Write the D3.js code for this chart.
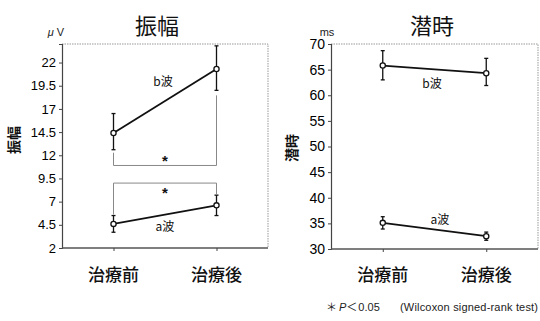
<!DOCTYPE html>
<html><head><meta charset="utf-8">
<script src="https://cdn.jsdelivr.net/npm/d3@7"></script>
<style>body{margin:0;background:#fff}svg{display:block}</style>
</head><body>
<script>
// ---- data ----
const categories = ["治療前", "治療後"];
// Amplitude (μV)
const ampTicks = [2, 4.5, 7, 9.5, 12, 14.5, 17, 19.5, 22];
const ampB = [14.4, 21.3];
const ampBLo = [12.6, 19.0];
const ampBHi = [16.5, 23.8];
const ampA = [4.6, 6.6];
const ampALo = [3.7, 5.5];
const ampAHi = [5.5, 7.7];
const ampBracketLevels = [10.9, 9.0];
// Latency (ms)
const latTicks = [30, 35, 40, 45, 50, 55, 60, 65, 70];
const latB = [65.8, 64.3];
const latBLo = [63.0, 61.9];
const latBHi = [68.7, 67.2];
const latA = [35.1, 32.5];
const latALo = [33.9, 31.7];
const latAHi = [36.3, 33.3];

const W = 540, H = 321;
const svg = d3.select("body").append("svg").attr("width", W).attr("height", H);
const JP = "'Noto Sans CJK JP','Noto Sans',sans-serif";
const NUM = "'Liberation Sans',Arial,sans-serif";

function panel(opt) {
  const g = svg.append("g");
  const x = d3.scalePoint().domain(categories).range([opt.x0, opt.x1]).padding(0.5);
  const y = d3.scaleLinear().domain(opt.domain).range([opt.y1, opt.y0]);
  // frame (top and right dotted grey)
  g.append("path")
    .attr("d", `M${opt.x0},${opt.y0}H${opt.x1}V${opt.y1}`)
    .attr("fill", "none").attr("stroke", "#999").attr("stroke-width", 1)
    .attr("stroke-dasharray", "1.5,1");
  // y axis
  const ya = g.append("g").attr("transform", `translate(${opt.x0},0)`)
    .call(d3.axisLeft(y).tickValues(opt.ticks).tickSize(3).tickPadding(3).tickFormat(d => d));
  ya.select(".domain").attr("stroke", "#444").attr("stroke-width", 1.2);
  ya.selectAll(".tick line").attr("stroke", "#444");
  ya.selectAll("text").attr("font-family", NUM).attr("font-size", opt.tickFont).attr("fill", "#000");
  // x axis
  const xa = g.append("g").attr("transform", `translate(0,${opt.y1})`)
    .call(d3.axisBottom(x).tickSize(3).tickFormat(""));
  xa.select(".domain").attr("stroke", "#555").attr("stroke-width", 1.4).attr("d", `M${opt.x0},0H${opt.x1}`);
  xa.selectAll(".tick line").attr("stroke", "#444");
  g.selectAll(".xlab").data(categories).enter().append("text")
    .attr("x", d => x(d)).attr("y", 281).attr("text-anchor", "middle")
    .attr("font-family", JP).attr("font-size", 17).attr("font-weight", 500).attr("fill", "#111")
    .text(d => d);
  // title
  g.append("text").attr("x", opt.titleX).attr("y", 34).attr("text-anchor", "middle")
    .attr("font-family", JP).attr("font-size", 22).attr("fill", "#111").text(opt.title);
  // unit
  g.append("text").attr("x", opt.unitX).attr("y", 36).attr("text-anchor", "middle")
    .attr("font-family", NUM).attr("font-size", 11).attr("fill", "#222").html(opt.unit);
  // y title
  g.append("text").attr("transform", `translate(${opt.ytX},${opt.ytY}) rotate(-90)`)
    .attr("text-anchor", "middle").attr("font-family", JP).attr("font-size", 14).attr("font-weight", 700)
    .attr("fill", "#111").text(opt.title);
  // series
  opt.series.forEach(s => {
    const pts = categories.map((c, i) => ({c, v: s.v[i], lo: s.lo[i], hi: s.hi[i]}));
    g.append("path").datum(pts)
      .attr("d", d3.line().x(d => x(d.c)).y(d => y(d.v)))
      .attr("fill", "none").attr("stroke", "#111").attr("stroke-width", 1.8);
    const eb = g.selectAll(null).data(pts).enter().append("g");
    eb.append("line").attr("x1", d => x(d.c)).attr("x2", d => x(d.c))
      .attr("y1", d => y(d.lo)).attr("y2", d => y(d.hi)).attr("stroke", "#111").attr("stroke-width", 1.3);
    eb.append("line").attr("x1", d => x(d.c) - 2).attr("x2", d => x(d.c) + 2)
      .attr("y1", d => y(d.lo)).attr("y2", d => y(d.lo)).attr("stroke", "#111").attr("stroke-width", 1.3);
    eb.append("line").attr("x1", d => x(d.c) - 2).attr("x2", d => x(d.c) + 2)
      .attr("y1", d => y(d.hi)).attr("y2", d => y(d.hi)).attr("stroke", "#111").attr("stroke-width", 1.3);
    eb.append("circle").attr("cx", d => x(d.c)).attr("cy", d => y(d.v)).attr("r", 2.6)
      .attr("fill", "#fff").attr("stroke", "#111").attr("stroke-width", 1.3);
    g.append("text").attr("x", s.labX).attr("y", s.labY).attr("text-anchor", "middle")
      .attr("font-family", JP).attr("font-size", 12).attr("fill", "#111").text(s.label);
  });
  return {g, x, y};
}

const L = panel({
  x0: 62, x1: 268, y0: 44, y1: 248, domain: [2, 24], ticks: ampTicks, tickFont: 13,
  title: "振幅", titleX: 157, unit: "<tspan font-style='italic'>μ</tspan> V", unitX: 56,
  ytX: 19, ytY: 140,
  series: [
    {v: ampB, lo: ampBLo, hi: ampBHi, label: "b波", labX: 163, labY: 86},
    {v: ampA, lo: ampALo, hi: ampAHi, label: "a波", labX: 165, labY: 231}
  ]
});

// significance brackets (amplitude panel)
{
  const {g, x, y} = L;
  const xa = x(categories[0]), xb = x(categories[1]);
  const yb = y(ampBracketLevels[0]);
  g.append("path").attr("d", `M${xa},${y(ampBLo[0]) + 3}V${yb}H${xb}V${y(ampBLo[1]) + 5}`)
    .attr("stroke", "#888").attr("stroke-width", 1).attr("fill", "none");
  g.append("text").attr("x", (xa + xb) / 2).attr("y", yb + 1).attr("text-anchor", "middle")
    .attr("font-family", NUM).attr("font-size", 15).attr("font-weight", 700).attr("fill", "#111").text("*");
  const ya = y(ampBracketLevels[1]);
  g.append("path").attr("d", `M${xa},${y(ampAHi[0]) - 1}V${ya}H${xb}V${y(ampAHi[1]) - 1}`)
    .attr("stroke", "#888").attr("stroke-width", 1).attr("fill", "none");
  g.append("text").attr("x", (xa + xb) / 2).attr("y", ya + 15).attr("text-anchor", "middle")
    .attr("font-family", NUM).attr("font-size", 15).attr("font-weight", 700).attr("fill", "#111").text("*");
}

panel({
  x0: 331, x1: 538, y0: 44, y1: 249, domain: [30, 70], ticks: latTicks, tickFont: 14,
  title: "潜時", titleX: 432, unit: "ms", unitX: 327,
  ytX: 297, ytY: 148,
  series: [
    {v: latB, lo: latBLo, hi: latBHi, label: "b波", labX: 432, labY: 88},
    {v: latA, lo: latALo, hi: latAHi, label: "a波", labX: 440, labY: 224}
  ]
});

// footnote
const fn = svg.append("text").attr("x", 326).attr("y", 311)
  .attr("font-family", NUM).attr("font-size", 11).attr("fill", "#222");
fn.append("tspan").attr("font-family", JP).text("＊");
fn.append("tspan").attr("dx", 2).attr("font-style", "italic").text("P");
fn.append("tspan").attr("font-family", JP).text("＜");
fn.append("tspan").attr("dx", 1).text("0.05");
fn.append("tspan").attr("x", 400).attr("textLength", 138).text("(Wilcoxon signed-rank test)");
</script>
</body></html>
